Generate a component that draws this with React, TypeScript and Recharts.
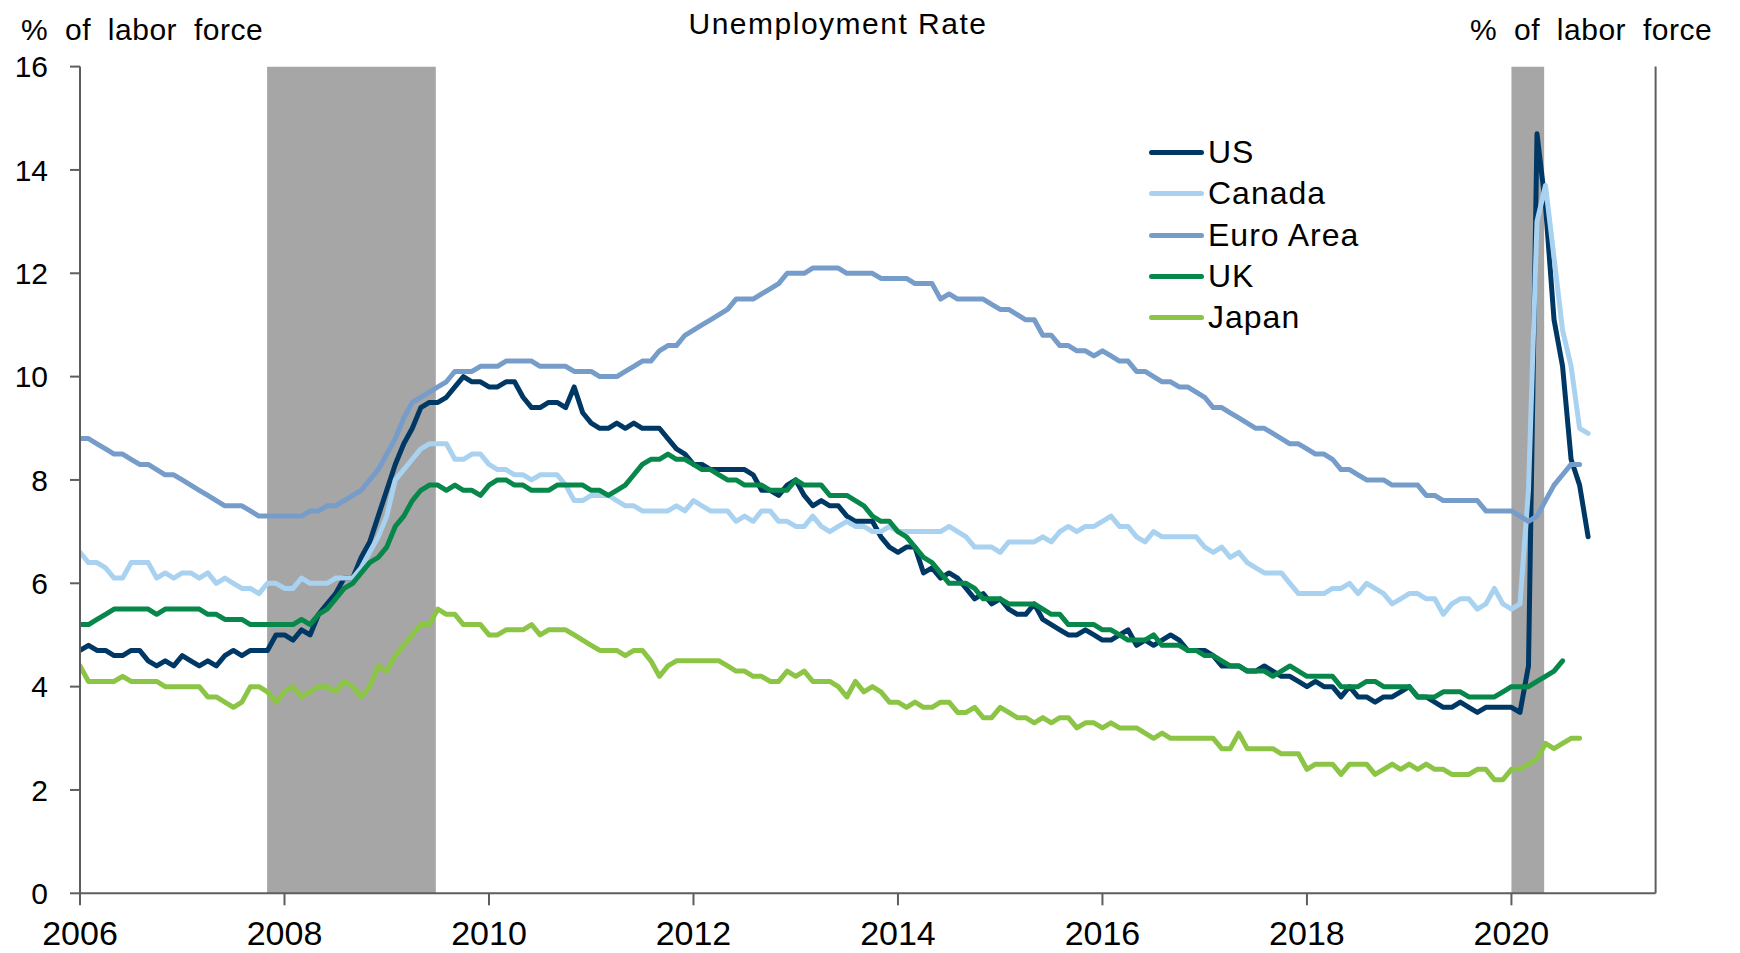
import React from 'react';
import { LineChart, Line, XAxis, YAxis, ReferenceArea, Legend } from 'recharts';

// Monthly data, first value = Jan 2006
const START_YEAR = 2006;

const US = [
  4.7, 4.8, 4.7, 4.7, 4.6, 4.6, 4.7, 4.7, 4.5, 4.4, 4.5, 4.4,
  4.6, 4.5, 4.4, 4.5, 4.4, 4.6, 4.7, 4.6, 4.7, 4.7, 4.7, 5.0,
  5.0, 4.9, 5.1, 5.0, 5.4, 5.6, 5.8, 6.1, 6.1, 6.5, 6.8, 7.3,
  7.8, 8.3, 8.7, 9.0, 9.4, 9.5, 9.5, 9.6, 9.8, 10.0, 9.9, 9.9,
  9.8, 9.8, 9.9, 9.9, 9.6, 9.4, 9.4, 9.5, 9.5, 9.4, 9.8, 9.3,
  9.1, 9.0, 9.0, 9.1, 9.0, 9.1, 9.0, 9.0, 9.0, 8.8, 8.6, 8.5,
  8.3, 8.3, 8.2, 8.2, 8.2, 8.2, 8.2, 8.1, 7.8, 7.8, 7.7, 7.9,
  8.0, 7.7, 7.5, 7.6, 7.5, 7.5, 7.3, 7.2, 7.2, 7.2, 6.9, 6.7,
  6.6, 6.7, 6.7, 6.2, 6.3, 6.1, 6.2, 6.1, 5.9, 5.7, 5.8, 5.6,
  5.7, 5.5, 5.4, 5.4, 5.6, 5.3, 5.2, 5.1, 5.0, 5.0, 5.1, 5.0,
  4.9, 4.9, 5.0, 5.1, 4.8, 4.9, 4.8, 4.9, 5.0, 4.9, 4.7, 4.7,
  4.7, 4.6, 4.4, 4.4, 4.4, 4.3, 4.3, 4.4, 4.3, 4.2, 4.2, 4.1,
  4.0, 4.1, 4.0, 4.0, 3.8, 4.0, 3.8, 3.8, 3.7, 3.8, 3.8, 3.9,
  4.0, 3.8, 3.8, 3.7, 3.6, 3.6, 3.7, 3.6, 3.5, 3.6, 3.6, 3.6,
  3.6, 3.5, 4.4, 14.7, 13.3, 11.1, 10.2, 8.4, 7.9, 6.9,
];

const CANADA = [
  6.6, 6.4, 6.4, 6.3, 6.1, 6.1, 6.4, 6.4, 6.4, 6.1, 6.2, 6.1,
  6.2, 6.2, 6.1, 6.2, 6.0, 6.1, 6.0, 5.9, 5.9, 5.8, 6.0, 6.0,
  5.9, 5.9, 6.1, 6.0, 6.0, 6.0, 6.1, 6.1, 6.1, 6.3, 6.6, 6.9,
  7.3, 8.0, 8.2, 8.4, 8.6, 8.7, 8.7, 8.7, 8.4, 8.4, 8.5, 8.5,
  8.3, 8.2, 8.2, 8.1, 8.1, 8.0, 8.1, 8.1, 8.1, 7.9, 7.6, 7.6,
  7.7, 7.7, 7.7, 7.6, 7.5, 7.5, 7.4, 7.4, 7.4, 7.4, 7.5, 7.4,
  7.6, 7.5, 7.4, 7.4, 7.4, 7.2, 7.3, 7.2, 7.4, 7.4, 7.2, 7.2,
  7.1, 7.1, 7.3, 7.1, 7.0, 7.1, 7.2, 7.1, 7.1, 7.0, 7.0, 7.1,
  7.0, 7.0, 7.0, 7.0, 7.0, 7.0, 7.1, 7.0, 6.9, 6.7, 6.7, 6.7,
  6.6, 6.8, 6.8, 6.8, 6.8, 6.9, 6.8, 7.0, 7.1, 7.0, 7.1, 7.1,
  7.2, 7.3, 7.1, 7.1, 6.9, 6.8, 7.0, 6.9, 6.9, 6.9, 6.9, 6.9,
  6.7, 6.6, 6.7, 6.5, 6.6, 6.4, 6.3, 6.2, 6.2, 6.2, 6.0, 5.8,
  5.8, 5.8, 5.8, 5.9, 5.9, 6.0, 5.8, 6.0, 5.9, 5.8, 5.6, 5.7,
  5.8, 5.8, 5.7, 5.7, 5.4, 5.6, 5.7, 5.7, 5.5, 5.6, 5.9, 5.6,
  5.5, 5.6, 7.8, 13.0, 13.7, 12.3, 10.9, 10.2, 9.0, 8.9,
];

const EURO_AREA = [
  8.8, 8.8, 8.7, 8.6, 8.5, 8.5, 8.4, 8.3, 8.3, 8.2, 8.1, 8.1,
  8.0, 7.9, 7.8, 7.7, 7.6, 7.5, 7.5, 7.5, 7.4, 7.3, 7.3, 7.3,
  7.3, 7.3, 7.3, 7.4, 7.4, 7.5, 7.5, 7.6, 7.7, 7.8, 8.0, 8.2,
  8.5, 8.8, 9.2, 9.5, 9.6, 9.7, 9.8, 9.9, 10.1, 10.1, 10.1, 10.2,
  10.2, 10.2, 10.3, 10.3, 10.3, 10.3, 10.2, 10.2, 10.2, 10.2, 10.1, 10.1,
  10.1, 10.0, 10.0, 10.0, 10.1, 10.2, 10.3, 10.3, 10.5, 10.6, 10.6, 10.8,
  10.9, 11.0, 11.1, 11.2, 11.3, 11.5, 11.5, 11.5, 11.6, 11.7, 11.8, 12.0,
  12.0, 12.0, 12.1, 12.1, 12.1, 12.1, 12.0, 12.0, 12.0, 12.0, 11.9, 11.9,
  11.9, 11.9, 11.8, 11.8, 11.8, 11.5, 11.6, 11.5, 11.5, 11.5, 11.5, 11.4,
  11.3, 11.3, 11.2, 11.1, 11.1, 10.8, 10.8, 10.6, 10.6, 10.5, 10.5, 10.4,
  10.5, 10.4, 10.3, 10.3, 10.1, 10.1, 10.0, 9.9, 9.9, 9.8, 9.8, 9.7,
  9.6, 9.4, 9.4, 9.3, 9.2, 9.1, 9.0, 9.0, 8.9, 8.8, 8.7, 8.7,
  8.6, 8.5, 8.5, 8.4, 8.2, 8.2, 8.1, 8.0, 8.0, 8.0, 7.9, 7.9,
  7.9, 7.9, 7.7, 7.7, 7.6, 7.6, 7.6, 7.6, 7.6, 7.4, 7.4, 7.4,
  7.4, 7.3, 7.2, 7.3, 7.6, 7.9, 8.1, 8.3, 8.3,
];

const UK = [
  5.2, 5.2, 5.3, 5.4, 5.5, 5.5, 5.5, 5.5, 5.5, 5.4, 5.5, 5.5,
  5.5, 5.5, 5.5, 5.4, 5.4, 5.3, 5.3, 5.3, 5.2, 5.2, 5.2, 5.2,
  5.2, 5.2, 5.3, 5.2, 5.4, 5.5, 5.7, 5.9, 6.0, 6.2, 6.4, 6.5,
  6.7, 7.1, 7.3, 7.6, 7.8, 7.9, 7.9, 7.8, 7.9, 7.8, 7.8, 7.7,
  7.9, 8.0, 8.0, 7.9, 7.9, 7.8, 7.8, 7.8, 7.9, 7.9, 7.9, 7.9,
  7.8, 7.8, 7.7, 7.8, 7.9, 8.1, 8.3, 8.4, 8.4, 8.5, 8.4, 8.4,
  8.3, 8.2, 8.2, 8.1, 8.0, 8.0, 7.9, 7.9, 7.9, 7.8, 7.8, 7.8,
  8.0, 7.9, 7.9, 7.9, 7.7, 7.7, 7.7, 7.6, 7.5, 7.3, 7.2, 7.2,
  7.0, 6.9, 6.7, 6.5, 6.4, 6.2, 6.0, 6.0, 6.0, 5.9, 5.7, 5.7,
  5.7, 5.6, 5.6, 5.6, 5.6, 5.5, 5.4, 5.4, 5.2, 5.2, 5.2, 5.2,
  5.1, 5.1, 5.0, 4.9, 4.9, 4.9, 5.0, 4.8, 4.8, 4.8, 4.7, 4.7,
  4.6, 4.6, 4.5, 4.4, 4.4, 4.3, 4.3, 4.3, 4.2, 4.3, 4.4, 4.3,
  4.2, 4.2, 4.2, 4.2, 4.0, 4.0, 4.0, 4.1, 4.1, 4.0, 4.0, 4.0,
  4.0, 3.8, 3.8, 3.8, 3.9, 3.9, 3.9, 3.8, 3.8, 3.8, 3.8, 3.9,
  4.0, 4.0, 4.0, 4.1, 4.2, 4.3, 4.5,
];

const JAPAN = [
  4.4, 4.1, 4.1, 4.1, 4.1, 4.2, 4.1, 4.1, 4.1, 4.1, 4.0, 4.0,
  4.0, 4.0, 4.0, 3.8, 3.8, 3.7, 3.6, 3.7, 4.0, 4.0, 3.9, 3.7,
  3.9, 4.0, 3.8, 3.9, 4.0, 4.0, 3.9, 4.1, 4.0, 3.8, 4.0, 4.4,
  4.3, 4.6, 4.8, 5.0, 5.2, 5.2, 5.5, 5.4, 5.4, 5.2, 5.2, 5.2,
  5.0, 5.0, 5.1, 5.1, 5.1, 5.2, 5.0, 5.1, 5.1, 5.1, 5.0, 4.9,
  4.8, 4.7, 4.7, 4.7, 4.6, 4.7, 4.7, 4.5, 4.2, 4.4, 4.5, 4.5,
  4.5, 4.5, 4.5, 4.5, 4.4, 4.3, 4.3, 4.2, 4.2, 4.1, 4.1, 4.3,
  4.2, 4.3, 4.1, 4.1, 4.1, 4.0, 3.8, 4.1, 3.9, 4.0, 3.9, 3.7,
  3.7, 3.6, 3.7, 3.6, 3.6, 3.7, 3.7, 3.5, 3.5, 3.6, 3.4, 3.4,
  3.6, 3.5, 3.4, 3.4, 3.3, 3.4, 3.3, 3.4, 3.4, 3.2, 3.3, 3.3,
  3.2, 3.3, 3.2, 3.2, 3.2, 3.1, 3.0, 3.1, 3.0, 3.0, 3.0, 3.0,
  3.0, 3.0, 2.8, 2.8, 3.1, 2.8, 2.8, 2.8, 2.8, 2.7, 2.7, 2.7,
  2.4, 2.5, 2.5, 2.5, 2.3, 2.5, 2.5, 2.5, 2.3, 2.4, 2.5, 2.4,
  2.5, 2.4, 2.5, 2.4, 2.4, 2.3, 2.3, 2.3, 2.4, 2.4, 2.2, 2.2,
  2.4, 2.4, 2.5, 2.6, 2.9, 2.8, 2.9, 3.0, 3.0,
];

const SERIES = [
  { key: 'us', name: 'US', color: '#003865', values: US },
  { key: 'canada', name: 'Canada', color: '#A9D2F0', values: CANADA },
  { key: 'euro', name: 'Euro Area', color: '#769DCA', values: EURO_AREA },
  { key: 'uk', name: 'UK', color: '#07884A', values: UK },
  { key: 'japan', name: 'Japan', color: '#8CC546', values: JAPAN },
];

const X_TICKS = [2006, 2008, 2010, 2012, 2014, 2016, 2018, 2020];
const Y_TICKS = [0, 2, 4, 6, 8, 10, 12, 14, 16];
const RECESSIONS = [
  { from: 2007.83, to: 2009.48 },
  { from: 2020.0, to: 2020.32 },
];

const TITLE = 'Unemployment Rate';
const UNIT = '% of labor force';

const FONT = '"Liberation Sans", Arial, Helvetica, sans-serif';
const AXIS_COLOR = '#5E5E5E';

const monthCount = Math.max(...SERIES.map((s) => s.values.length));
const data = Array.from({ length: monthCount }, (_, i) => {
  const row: Record<string, number> = { t: START_YEAR + i / 12 };
  SERIES.forEach((s) => {
    if (i < s.values.length) row[s.key] = s.values[i];
  });
  return row;
});

const LeftTick = (props: any) => {
  const { x, y, payload } = props;
  return (
    <text x={x} y={y} dy="0.355em" textAnchor="end" fontSize={30} fontFamily={FONT} fill="#000">
      {payload.value}
    </text>
  );
};

const RightTick = (props: any) => {
  const { x, y, payload } = props;
  return (
    <text
      x={x}
      y={y}
      dy="0.355em"
      textAnchor="start"
      fontSize={30}
      fontFamily={FONT}
      fill="#000"
      style={{ letterSpacing: '8px' }}
    >
      {payload.value}
    </text>
  );
};

const BottomTick = (props: any) => {
  const { x, y, payload } = props;
  return (
    <text x={x} y={y} dy="0.71em" textAnchor="middle" fontSize={34} fontFamily={FONT} fill="#000">
      {payload.value}
    </text>
  );
};

const renderLegend = () => (
  <div style={{ fontFamily: FONT }}>
    {SERIES.map((s) => (
      <div key={s.key} style={{ display: 'flex', alignItems: 'center', height: 41.3 }}>
        <div
          style={{
            width: 55,
            height: 5,
            borderRadius: 3,
            background: s.color,
            marginRight: 4,
          }}
        />
        <span style={{ fontSize: 32, letterSpacing: '1px', color: '#000', lineHeight: '41px' }}>{s.name}</span>
      </div>
    ))}
  </div>
);

export default function App() {
  return (
    <div style={{ position: 'absolute', left: 0, top: 0, width: 1740, height: 953, background: '#fff' }}>
      <LineChart
        width={1740}
        height={953}
        data={data}
        margin={{ top: 66.6, right: 24.4, bottom: 9.7, left: 20 }}
      >
        {RECESSIONS.map((r, i) => (
          <ReferenceArea
            key={i}
            yAxisId="left"
            x1={r.from}
            x2={r.to}
            y1={0}
            y2={16}
            fill="#A6A6A6"
            fillOpacity={1}
            stroke="none"
            ifOverflow="hidden"
          />
        ))}
        <XAxis
          dataKey="t"
          type="number"
          domain={[2006, 2021.41]}
          ticks={X_TICKS}
          allowDataOverflow
          height={50}
          tickSize={12}
          tickMargin={16}
          axisLine={{ stroke: AXIS_COLOR, strokeWidth: 2 }}
          tickLine={{ stroke: AXIS_COLOR, strokeWidth: 2 }}
          tick={<BottomTick />}
          interval={0}
        />
        <YAxis
          yAxisId="left"
          orientation="left"
          domain={[0, 16]}
          ticks={Y_TICKS}
          width={60}
          tickSize={10}
          tickMargin={22}
          axisLine={{ stroke: AXIS_COLOR, strokeWidth: 2 }}
          tickLine={{ stroke: AXIS_COLOR, strokeWidth: 2 }}
          tick={<LeftTick />}
          interval={0}
        />
        <YAxis
          yAxisId="right"
          orientation="right"
          domain={[0, 16]}
          ticks={Y_TICKS}
          width={60}
          tickSize={12}
          tickMargin={14}
          axisLine={{ stroke: AXIS_COLOR, strokeWidth: 2 }}
          tickLine={{ stroke: AXIS_COLOR, strokeWidth: 2 }}
          tick={<RightTick />}
          interval={0}
        />
        {SERIES.map((s) => (
          <Line
            key={s.key}
            yAxisId="left"
            type="linear"
            dataKey={s.key}
            name={s.name}
            stroke={s.color}
            strokeWidth={5}
            strokeLinejoin="round"
            strokeLinecap="round"
            dot={false}
            activeDot={false}
            isAnimationActive={false}
          />
        ))}
        <Legend
          layout="vertical"
          align="center"
          verticalAlign="middle"
          content={renderLegend}
          wrapperStyle={{ position: 'absolute', left: 1149, top: 132, width: 320, height: 210 }}
        />
      </LineChart>
      <svg
        width={1740}
        height={953}
        style={{ position: 'absolute', left: 0, top: 0, pointerEvents: 'none' }}
      >
        <text x={838} y={34} textAnchor="middle" fontSize={30} fontFamily={FONT} fill="#000" style={{ letterSpacing: '1.5px' }}>
          {TITLE}
        </text>
        <text x={21} y={40} textAnchor="start" fontSize={30} fontFamily={FONT} fill="#000" style={{ wordSpacing: '8px', letterSpacing: '0.5px' }}>
          {UNIT}
        </text>
        <text x={1470} y={40} textAnchor="start" fontSize={30} fontFamily={FONT} fill="#000" style={{ wordSpacing: '8px', letterSpacing: '0.5px' }}>
          {UNIT}
        </text>
      </svg>
    </div>
  );
}
